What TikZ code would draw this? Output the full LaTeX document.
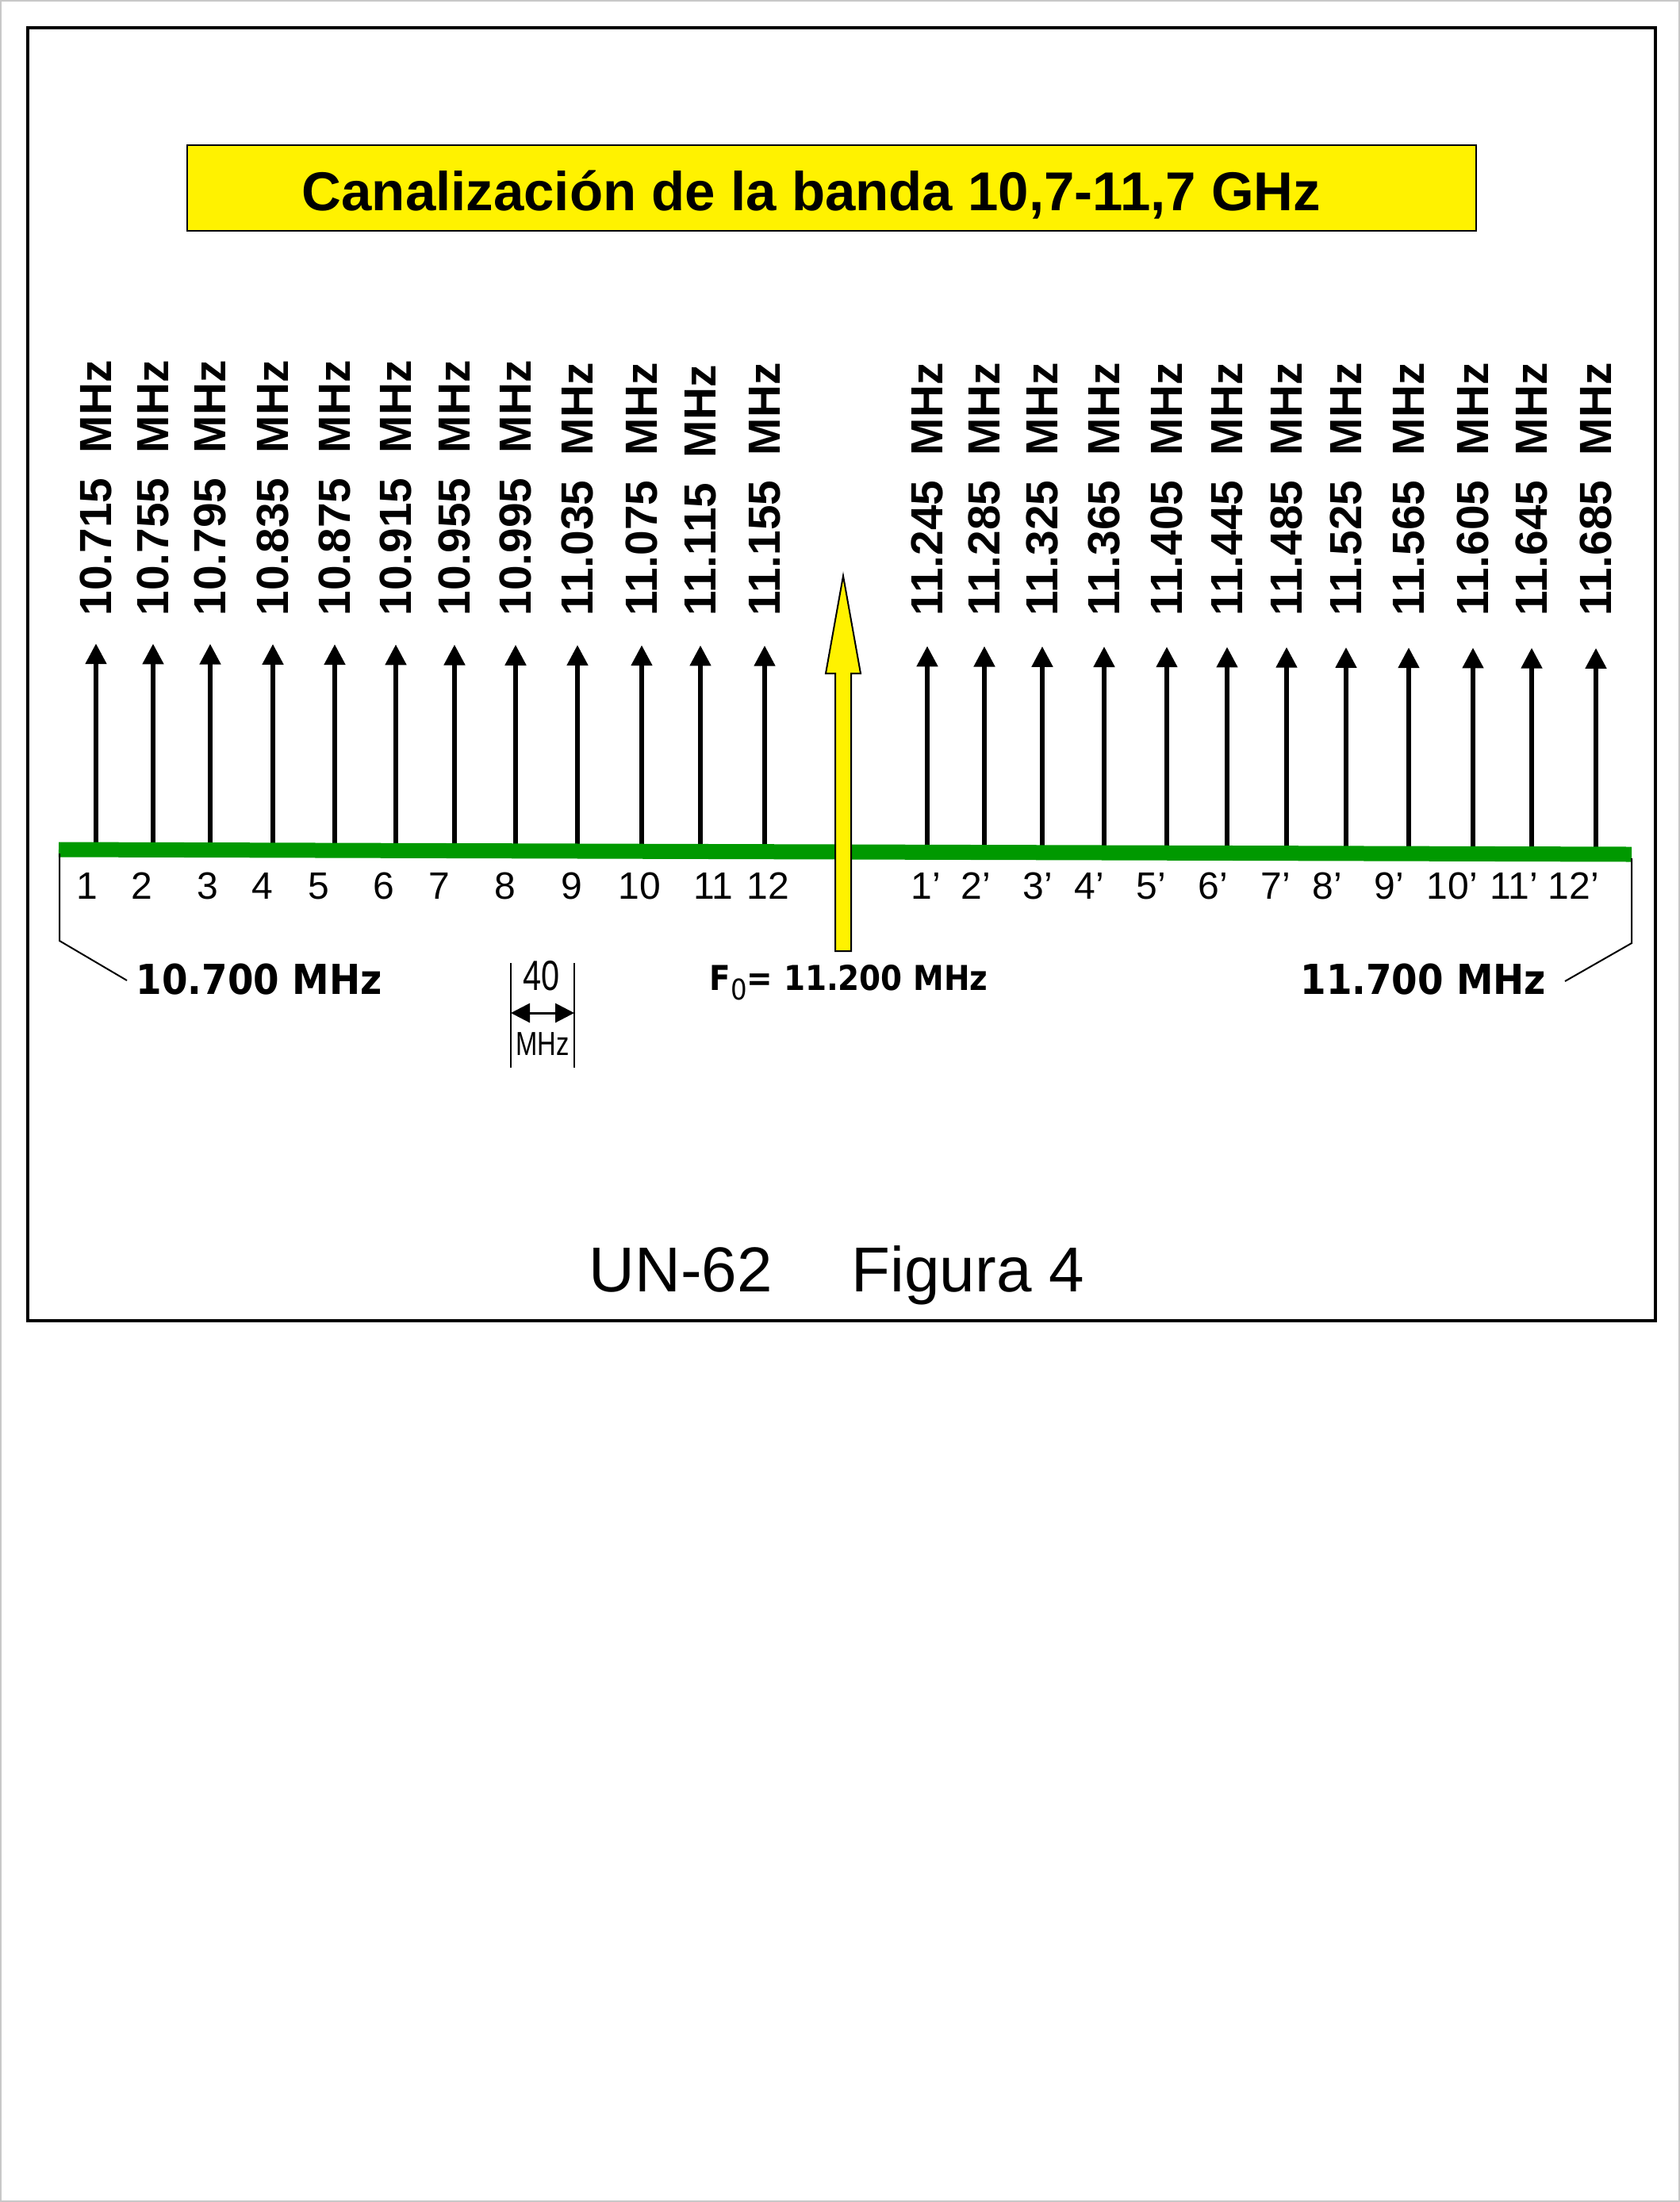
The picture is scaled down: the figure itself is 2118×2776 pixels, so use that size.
\documentclass[tikz,border=0pt]{standalone}
\usepackage{fontspec}
\setmainfont{Liberation Sans}
\newfontfamily\dvc{DejaVu Sans Condensed}
\newfontfamily\narrowfont{Liberation Sans}[FakeStretch=0.78]
\usetikzlibrary{arrows.meta}
\definecolor{bandgreen}{RGB}{0,153,0}
\definecolor{pageborder}{RGB}{200,200,200}
\begin{document}
\begin{tikzpicture}[x=0.25pt,y=-0.25pt,
  freqlabel/.style={rotate=90,anchor=west,inner sep=0pt,font=\fontsize{14.2}{16}\selectfont\bfseries},
  chanlabel/.style={anchor=base,inner sep=0pt,font=\fontsize{12}{14}\selectfont},
  carrier/.style={line width=1.5pt,-{Triangle[length=6.5pt,width=6.4pt]}},
  edgelabel/.style={inner sep=0pt,font=\dvc\bfseries\fontsize{13}{15}\selectfont},
  thinline/.style={line width=0.5pt},
  caption/.style={anchor=base west,inner sep=0pt,font=\fontsize{20}{24}\selectfont}
]
\useasboundingbox (0,0) rectangle (2118,2776);
\draw[pageborder,line width=0.5pt] (1,1) rectangle (2117,2775);
% main frame
\draw[line width=0.8pt] (35,35) rectangle (2087,1665);
% title
\node[draw,fill=yellow,line width=0.7pt,minimum width=406.25pt,minimum height=27pt,inner sep=0pt] (titlebox) at (1048.5,237) {};
\node[anchor=base,inner sep=0pt,font=\fontsize{17.25}{20}\selectfont\bfseries] (title) at (1023,265) {Canalización de la banda 10,7-11,7 GHz};
% green band line
\coordinate (gL) at (74,1071);
\coordinate (gR) at (2057,1077);
% carriers, left half
\foreach \x/\f [count=\i] in {121/10.715,193/10.755,265/10.795,344/10.835,422/10.875,499/10.915,573/10.955,650/10.995,728/11.035,809/11.075,883/11.115,964/11.155}{
  \pgfmathsetmacro\yb{1071+6*(\x-74)/1983}
  \coordinate (cb\i) at (\x,\yb);
  \coordinate (ct\i) at (\x,\yb-260);
  \draw[carrier] (cb\i) -- (ct\i);
  \node[freqlabel] (fl\i) at (\x,777) {\f~~MHz};
}
% carriers, right half
\foreach \x/\f [count=\i] in {1169/11.245,1241/11.285,1314/11.325,1392/11.365,1471/11.405,1547/11.445,1622/11.485,1697/11.525,1776/11.565,1857/11.605,1931/11.645,2012/11.685}{
  \pgfmathsetmacro\yb{1071+6*(\x-74)/1983}
  \coordinate (cbp\i) at (\x,\yb);
  \coordinate (ctp\i) at (\x,\yb-260);
  \draw[carrier] (cbp\i) -- (ctp\i);
  \node[freqlabel] (flp\i) at (\x,777) {\f~~MHz};
}
\draw[bandgreen,line width=4.75pt] (gL) -- (gR);
% channel numbers
\foreach \x [count=\i] in {110,179,262,331,402,484,554,637,721,806,899,968}{
  \node[chanlabel] (ch\i) at (\x,1133) {\i};
}
\foreach \x [count=\i] in {1167,1230,1308,1373,1451,1529,1608,1673,1751,1831,1909,1984}{
  \node[chanlabel] (chp\i) at (\x,1133) {\i'};
}
% band edge brackets
\node[edgelabel,anchor=base west] (lo) at (171,1253) {10.700 MHz};
\node[edgelabel,anchor=base east] (hi) at (1950,1253) {11.700 MHz};
\coordinate (bl0) at (75,1076);
\coordinate (bl1) at (75,1186);
\coordinate (bl2) at (160,1236);
\coordinate (br0) at (2057,1082);
\coordinate (br1) at (2057,1189);
\coordinate (br2) at (1973,1237);
\draw[thinline] (bl0) -- (bl1) -- (bl2);
\draw[thinline] (br0) -- (br1) -- (br2);
% centre frequency arrow
\draw[fill=yellow,line width=0.5pt] (1053,1199) -- (1053,849) -- (1041,849) -- (1063,726) -- (1085,849) -- (1073,849) -- (1073,1199) -- cycle;
\node[anchor=base west,inner sep=0pt,font=\dvc\bfseries\fontsize{10.8}{13}\selectfont] (f0) at (894,1248) {F\raisebox{-0.3em}{\mdseries\fontsize{9}{10}\selectfont 0}= 11.200 MHz};
% 40 MHz spacing marker
\coordinate (ma) at (644,1214);
\coordinate (mb) at (644,1346);
\coordinate (mc) at (724,1214);
\coordinate (md) at (724,1346);
\draw[line width=0.4pt] (ma) -- (mb);
\draw[line width=0.4pt] (mc) -- (md);
\coordinate (sa) at (644,1277);
\coordinate (sb) at (724,1277);
\draw[line width=0.75pt,{Triangle[length=6pt,width=6pt]}-{Triangle[length=6pt,width=6pt]}] (sa) -- (sb);
\node[anchor=base,inner sep=0pt,font=\narrowfont\fontsize{13.3}{15}\selectfont] (sp40) at (683,1248) {40};
\node[anchor=base,inner sep=0pt,font=\narrowfont\fontsize{10.5}{12}\selectfont] (spmhz) at (684,1330) {MHz};
% caption
\node[caption] (cap1) at (742,1628) {UN-62};
\node[caption] (cap2) at (1073,1628) {Figura 4};
\end{tikzpicture}
\end{document}
